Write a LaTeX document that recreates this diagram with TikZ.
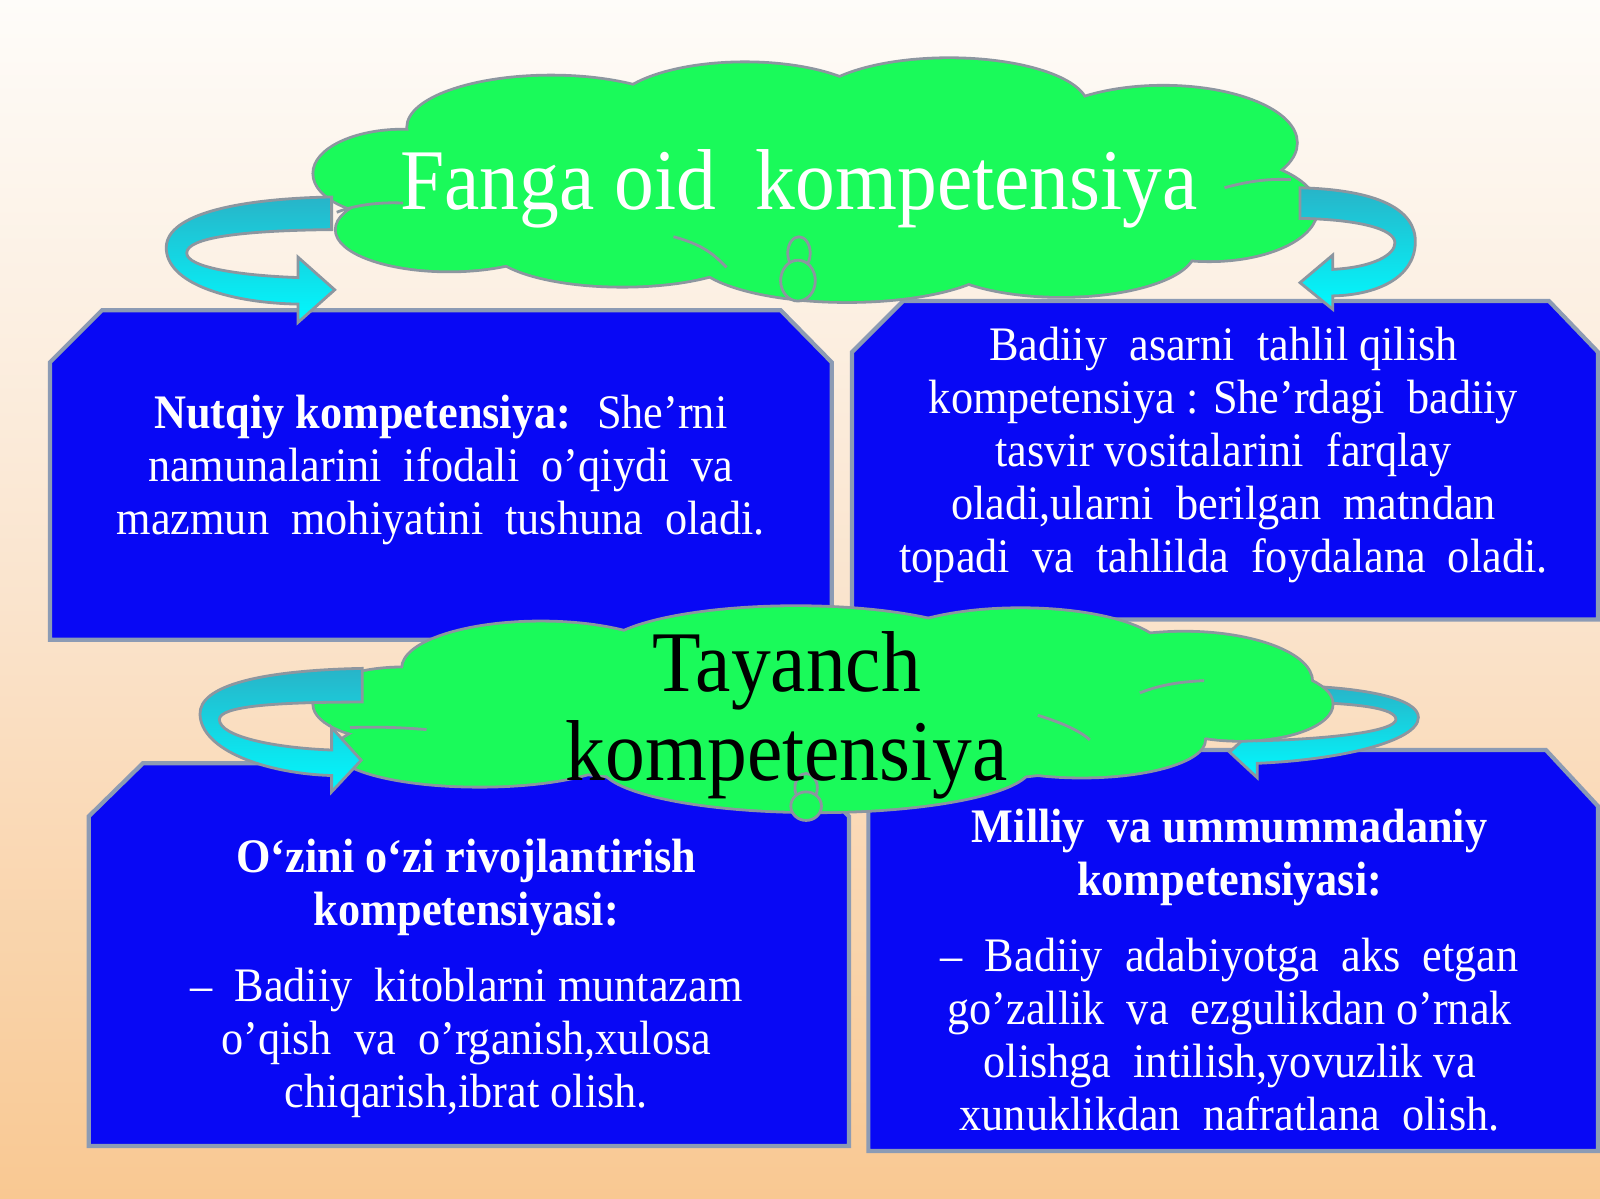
\documentclass[tikz,border=0pt]{standalone}
\usepackage{fontspec}
\setmainfont{Liberation Serif}[FakeStretch=0.92]
\definecolor{bgtop}{RGB}{254,252,249}
\definecolor{bgmid}{RGB}{250,228,205}
\definecolor{bgbot}{RGB}{249,200,146}
\definecolor{boxblue}{RGB}{8,8,245}
\definecolor{boxline}{RGB}{140,155,180}
\definecolor{cloudgreen}{RGB}{26,250,90}
\definecolor{cloudline}{RGB}{140,150,160}
\definecolor{arrowtop}{RGB}{40,180,200}
\definecolor{arrowbot}{RGB}{0,250,255}
\begin{document}
\begin{tikzpicture}[x=0.0102041cm,y=-0.0102041cm,
  bodytxt/.style={text=white, align=center, inner sep=0pt, font=\fontsize{13.7}{15.1}\selectfont},
  titletxt/.style={align=center, inner sep=0pt, font=\fontsize{24.6}{25.5}\selectfont},
  boxshape/.style={fill=boxblue, draw=boxline, line width=1.2pt},
  arrowshape/.style={top color=arrowtop, bottom color=arrowbot, draw=cloudline, line width=0.8pt},
  cloudedge/.style={draw=cloudline, line width=1.6pt},
  innerarc/.style={draw=cloudline, line width=0.8pt},
  bubble/.style={fill=cloudgreen, draw=cloudline, line width=0.8pt}]
\useasboundingbox (0,0) rectangle (1568,1175);
\path[top color=bgtop, bottom color=bgbot, middle color=bgmid] (0,0) rectangle (1568,1175);

% boxes
\path[boxshape] (49,355) -- (100,304) -- (765,304) -- (815,355) -- (815,627) -- (49,627) -- cycle;
\path[boxshape] (835,345) -- (885,295) -- (1518,295) -- (1566,345) -- (1566,607) -- (835,607) -- cycle;
\path[boxshape] (87,800) -- (140,748) -- (780,748) -- (832,800) -- (832,1123) -- (87,1123) -- cycle;
\path[boxshape] (851,790) -- (903,735) -- (1515,735) -- (1566,790) -- (1566,1128) -- (851,1128) -- cycle;

% bottom-right arrow (its tail runs behind the cloud)
\path[arrowshape] (1270,672) .. controls (1340,674) and (1390,685) .. (1390,703) .. controls (1390,727) and (1310,745) .. (1232,748) -- (1232,762) -- (1205,737) -- (1232,712) -- (1232,726) .. controls (1310,724) and (1368,716) .. (1368,705) .. controls (1368,694) and (1330,689) .. (1270,688) -- cycle;

% top cloud
\foreach \cx/\cy/\rx/\ry in {395/170/87/42, 440/225/110/40, 540/125/140/50, 730/110/130/48, 930/105/135/47, 1140/140/130/55, 1185/205/105/50, 1040/245/130/45, 830/250/150/45, 610/240/130/40, 800/180/400/85}
  \path[cloudedge] (\cx,\cy) ellipse [x radius=\rx, y radius=\ry];
\foreach \cx/\cy/\rx/\ry in {395/170/87/42, 440/225/110/40, 540/125/140/50, 730/110/130/48, 930/105/135/47, 1140/140/130/55, 1185/205/105/50, 1040/245/130/45, 830/250/150/45, 610/240/130/40, 800/180/400/85}
  \fill[cloudgreen] (\cx,\cy) ellipse [x radius=\rx, y radius=\ry];
\path[innerarc] (330,208) .. controls (350,200) and (375,198) .. (395,199);
\path[innerarc] (660,232) .. controls (690,240) and (700,250) .. (712,262);
\path[innerarc] (1200,184) .. controls (1225,177) and (1245,175) .. (1265,176);
\path[bubble] (783,248) ellipse [x radius=11, y radius=16];
\path[bubble] (782,275) ellipse [x radius=17, y radius=20];

% bottom cloud
\foreach \cx/\cy/\rx/\ry in {395/690/87/35, 470/735/140/35, 530/655/135/45, 780/640/190/45, 1000/640/140/43, 1160/668/125/48, 1215/690/90/35, 1060/725/120/36, 800/750/210/45, 800/695/410/75}
  \path[cloudedge] (\cx,\cy) ellipse [x radius=\rx, y radius=\ry];
\foreach \cx/\cy/\rx/\ry in {395/690/87/35, 470/735/140/35, 530/655/135/45, 780/640/190/45, 1000/640/140/43, 1160/668/125/48, 1215/690/90/35, 1060/725/120/36, 800/750/210/45, 800/695/410/75}
  \fill[cloudgreen] (\cx,\cy) ellipse [x radius=\rx, y radius=\ry];
\path[innerarc] (343,713) .. controls (370,712) and (395,713) .. (418,715);
\path[innerarc] (1017,701) .. controls (1040,708) and (1058,716) .. (1068,725);
\path[innerarc] (1117,679) .. controls (1140,670) and (1160,668) .. (1180,667);
\path[bubble] (790,772) ellipse [x radius=11, y radius=14];
\path[bubble] (790,790) ellipse [x radius=15, y radius=14];

% arrows
\path[arrowshape] (325,193) .. controls (225,195) and (160,212) .. (163,245) .. controls (166,280) and (230,297) .. (292,298) -- (292,316) -- (328,284) -- (292,252) -- (292,272) .. controls (235,270) and (183,262) .. (183,248) .. controls (183,233) and (235,226) .. (325,225) -- cycle;
\path[arrowshape] (1274,184) .. controls (1350,186) and (1388,205) .. (1387,238) .. controls (1386,272) and (1350,289) .. (1306,290) -- (1306,303) -- (1274,277) -- (1306,250) -- (1306,264) .. controls (1345,262) and (1367,250) .. (1367,238) .. controls (1367,224) and (1330,215) .. (1274,214) -- cycle;
\path[arrowshape] (355,655) .. controls (255,657) and (195,672) .. (196,700) .. controls (197,735) and (260,758) .. (325,760) -- (325,776) -- (354,745) -- (325,713) -- (325,735) .. controls (270,733) and (215,722) .. (215,705) .. controls (215,692) and (270,688) .. (355,688) -- cycle;

% texts (anchor=base is the baseline of the last line)
\node[titletxt, text=white, anchor=base] (fanga) at (783,205) {Fanga oid~ kompetensiya};
\node[titletxt, text=black, anchor=base] (tayanch) at (771,765) {Tayanch\\kompetensiya};

\node[bodytxt, anchor=base] (nutqiy) at (432,524) {\textbf{Nutqiy kompetensiya:}~ She’rni\\namunalarini~ ifodali~ o’qiydi~ va\\mazmun~ mohiyatini~ tushuna~ oladi.};
\node[bodytxt, anchor=base] (badiiy) at (1199,561) {Badiiy~ asarni~ tahlil qilish\\kompetensiya : She’rdagi~ badiiy\\tasvir vositalarini~ farqlay\\oladi,ularni~ berilgan~ matndan\\topadi~ va~ tahlilda~ foydalana~ oladi.};
\node[bodytxt, anchor=base] (ozini) at (457,1085) {\textbf{O‘zini o‘zi rivojlantirish}\\\textbf{kompetensiyasi:}\\[6.4pt]–~ Badiiy~ kitoblarni muntazam\\o’qish~ va~ o’rganish,xulosa\\chiqarish,ibrat olish.};
\node[bodytxt, anchor=base] (milliy) at (1205,1108) {\textbf{Milliy~ va ummummadaniy}\\\textbf{kompetensiyasi:}\\[6.4pt]–~ Badiiy~ adabiyotga~ aks~ etgan\\go’zallik~ va~ ezgulikdan o’rnak\\olishga~ intilish,yovuzlik va\\xunuklikdan~ nafratlana~ olish.};
\end{tikzpicture}
\end{document}
